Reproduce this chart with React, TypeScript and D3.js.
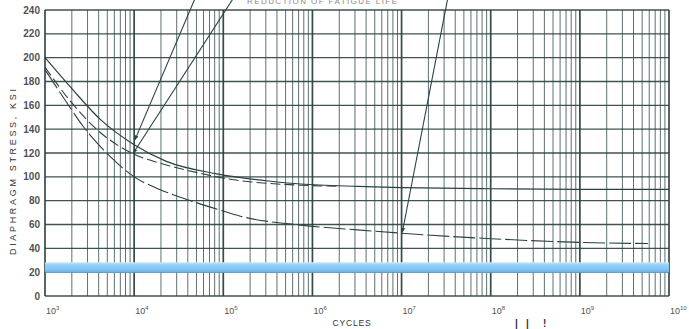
import React from "react";
import * as d3 from "d3";

// ---- data ----
const X_DECADES = [3, 4, 5, 6, 7, 8, 9, 10];
const Y_TICKS = [0, 20, 40, 60, 80, 100, 120, 140, 160, 180, 200, 220, 240];

// Upper solid curve
const A_CYCLES = [1e3, 2e3, 4.2e3, 1e4, 2.3e4, 8.5e4, 3.2e5, 7.4e5, 3.2e6, 1e7, 1e8, 1e9, 1e10];
const A_KSI = [200, 174, 148, 127, 113, 102.5, 96.5, 94, 92, 91, 90, 89.5, 89.5];
// Middle dashed curve
const B_CYCLES = [1e3, 2e3, 4.2e3, 1e4, 2.3e4, 5.5e4, 1.3e5, 3.2e5, 7.4e5, 2e6];
const B_KSI = [192, 162, 137, 119, 110, 103, 97.5, 94.5, 93, 92];
// Lower curve
const C_CYCLES = [1e3, 2e3, 2.7e3, 5.4e3, 1e4, 2e4, 4.3e4, 9.3e4, 1.55e5, 7.4e5, 3.2e6, 1e7, 8e7, 1e9, 5.8e9];
const C_KSI = [190, 156, 142, 117, 100, 89, 80, 72, 67, 59.5, 55.5, 52.7, 48.5, 45, 44];

// Leader arrows: from (cycles, ksi) -> to (cycles, ksi)
const ARROW_FROM_CYCLES = [4.84e4, 1.3e5, 3.3e7];
const ARROW_FROM_KSI = [250, 250, 250];
const ARROW_TO_CYCLES = [1.02e4, 9.8e3, 1.02e7];
const ARROW_TO_KSI = [131, 120, 53.5];

// Highlight band (ksi)
const BAND = [19.5, 28.3];

const W = 689;
const H = 329;
const M = { left: 45, right: 20, top: 10, bottom: 33 };

export default function App() {
  const x = d3.scaleLog().domain([1e3, 1e10]).range([M.left, W - M.right]);
  const y = d3.scaleLinear().domain([0, 240]).range([H - M.bottom, M.top]);

  const gridV: { v: number; major: boolean }[] = [];
  for (let e = 3; e < 10; e++) {
    for (let m = 1; m <= 9; m++) gridV.push({ v: m * Math.pow(10, e), major: m === 1 });
  }
  gridV.push({ v: 1e10, major: true });

  const line = d3
    .line<[number, number]>()
    .x((d) => x(d[0]))
    .y((d) => y(d[1]))
    .curve(d3.curveMonotoneX);

  const zip = (a: number[], b: number[]) => a.map((v, i) => [v, b[i]] as [number, number]);

  const ink = "#2b4141";
  const font = "'Liberation Sans', Arial, sans-serif";

  return (
    <svg width={W} height={H} style={{ position: "absolute", left: 0, top: 0, background: "#fff" }}>
      <defs>
        <linearGradient id="band" x1="0" y1="0" x2="0" y2="1">
          <stop offset="0" stopColor="#c9e8fc" />
          <stop offset="0.25" stopColor="#96d0f5" />
          <stop offset="0.7" stopColor="#82c3f0" />
          <stop offset="1" stopColor="#5eaae6" />
        </linearGradient>
        <marker id="ah" viewBox="0 0 10 10" refX="9" refY="5" markerWidth="5" markerHeight="6" orient="auto" markerUnits="userSpaceOnUse">
          <path d="M0,1 L10,5 L0,9 z" fill={ink} />
        </marker>
      </defs>
      <rect x={0} y={0} width={W} height={H} fill="#fff" />

      {/* vertical grid */}
      {gridV.map((g, i) => (
        <line
          key={"v" + i}
          x1={x(g.v)}
          x2={x(g.v)}
          y1={y(240)}
          y2={y(0)}
          stroke={ink}
          strokeWidth={g.major ? 1.7 : 1}
          opacity={g.major ? 0.95 : 0.75}
        />
      ))}
      {/* horizontal grid */}
      {Y_TICKS.map((t) => (
        <line key={"h" + t} x1={x(1e3)} x2={x(1e10)} y1={y(t)} y2={y(t)} stroke={ink} strokeWidth={1.3} opacity={0.9} />
      ))}

      {/* curves */}
      <path d={line(zip(A_CYCLES, A_KSI)) || ""} fill="none" stroke={ink} strokeWidth={1.2} />
      <path d={line(zip(B_CYCLES, B_KSI)) || ""} fill="none" stroke={ink} strokeWidth={1.1} strokeDasharray="10 4" />
      <path d={line(zip(C_CYCLES, C_KSI)) || ""} fill="none" stroke={ink} strokeWidth={1.1} strokeDasharray="22 4" />

      {/* leader arrows */}
      {ARROW_FROM_CYCLES.map((c, i) => (
        <line
          key={"a" + i}
          x1={x(c)}
          y1={y(ARROW_FROM_KSI[i])}
          x2={x(ARROW_TO_CYCLES[i])}
          y2={y(ARROW_TO_KSI[i])}
          stroke={ink}
          strokeWidth={1.1}
          markerEnd="url(#ah)"
        />
      ))}

      {/* highlight band */}
      <rect
        x={x(1e3)}
        y={y(BAND[1])}
        width={x(1e10) - x(1e3)}
        height={y(BAND[0]) - y(BAND[1])}
        fill="url(#band)"
        rx={1}
      />

      {/* y tick labels */}
      {Y_TICKS.map((t) => (
        <text key={"yl" + t} x={40} y={y(t) + 3.5} textAnchor="end" fontFamily={font} fontSize={10} fill="#333" fontWeight="bold" opacity={0.85}>
          {t}
        </text>
      ))}
      {/* x tick labels */}
      {X_DECADES.map((e) => (
        <text key={"xl" + e} x={x(Math.pow(10, e)) + 1} y={314} fontFamily={font} fontSize={9} fill="#333" opacity={0.85}>
          10
          <tspan dy={-4} fontSize={6}>
            {e}
          </tspan>
        </text>
      ))}

      {/* axis titles */}
      <text
        transform={`translate(16,${172}) rotate(-90)`}
        textAnchor="middle"
        fontFamily={font}
        fontSize={9}
        fill="#333"
        textLength={166}
        lengthAdjust="spacing"
      >
        DIAPHRAGM STRESS, KSI
      </text>
      <text x={352} y={326} textAnchor="middle" fontFamily={font} fontSize={8.5} fill="#333" letterSpacing={0.8}>
        CYCLES
      </text>
      <text x={247} y={4} fontFamily={font} fontSize={8} fill="#555" textLength={150} lengthAdjust="spacing" opacity={0.7}>
        REDUCTION OF FATIGUE LIFE
      </text>
      <text x={515} y={327} fontFamily={font} fontSize={10} fontWeight="bold" fill="#333">|</text>
      <text x={526} y={327} fontFamily={font} fontSize={10} fontWeight="bold" fill="#333">|</text>
      <text x={543} y={327} fontFamily={font} fontSize={10} fontWeight="bold" fill="#333">!</text>
    </svg>
  );
}
